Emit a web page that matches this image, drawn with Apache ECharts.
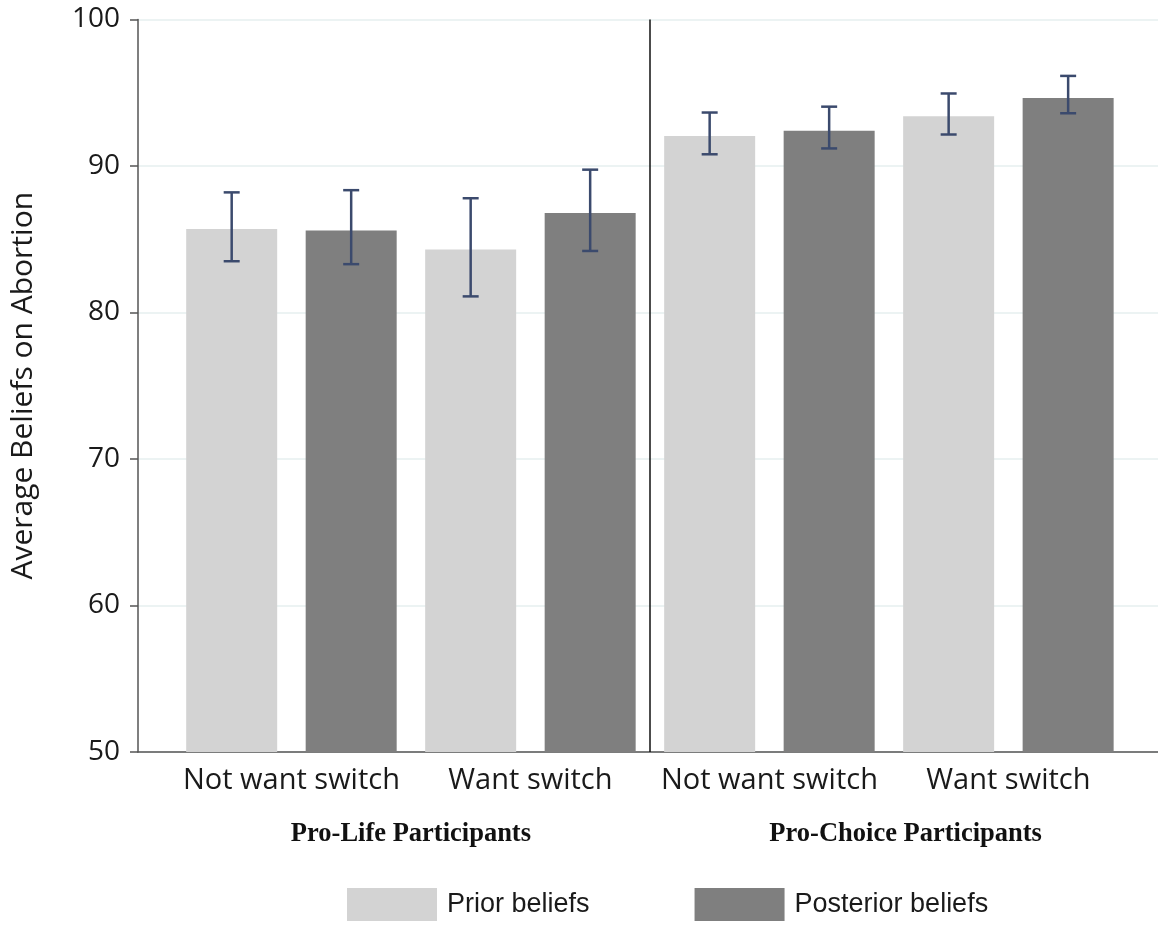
<!DOCTYPE html>
<html>
<head>
<meta charset="utf-8">
<title>Average Beliefs on Abortion</title>
<script src="https://cdn.jsdelivr.net/npm/echarts@6/dist/echarts.min.js"></script>
<style>
    html, body { margin: 0; padding: 0; background: #fff; }
    #main { width: 1158px; height: 926px; }
</style>
</head>
<body>
<div id="main"></div>
<script>
    // bar groups (one per label on the x axis)
    var categories = ['Not want switch', 'Want switch', 'Not want switch', 'Want switch'];
    var groupNames = ['Pro-Life Participants', 'Pro-Choice Participants'];
    var seriesNames = ['Prior beliefs', 'Posterior beliefs'];

    var prior = [85.7, 84.3, 92.05, 93.4];
    var priorLow = [83.5, 81.1, 90.8, 92.15];
    var priorHigh = [88.2, 87.8, 93.65, 94.95];

    var posterior = [85.6, 86.8, 92.4, 94.65];
    var postLow = [83.3, 84.2, 91.2, 93.6];
    var postHigh = [88.35, 89.75, 94.05, 96.15];

    var yTicks = [50, 60, 70, 80, 90, 100];

    // prior bar left of group centre, posterior right
    function toBars(vals, shift) {
        return vals.map(function (v, i) { return [i + shift, v]; });
    }
    function toErr(low, high, shift) {
        return low.map(function (v, i) { return [i + shift, v, high[i]]; });
    }

    function errRender(params, api) {
        var x = api.value(0);
        var top = api.coord([x, api.value(2)]);
        var bot = api.coord([x, api.value(1)]);
        var w = 8;
        var st = { stroke: '#3b4a6d', lineWidth: 2.5 };
        return {
            type: 'group',
            children: [
                { type: 'line', shape: { x1: top[0], y1: top[1], x2: bot[0], y2: bot[1] }, style: st },
                { type: 'line', shape: { x1: top[0] - w, y1: top[1], x2: top[0] + w, y2: top[1] }, style: st },
                { type: 'line', shape: { x1: bot[0] - w, y1: bot[1], x2: bot[0] + w, y2: bot[1] }, style: st }
            ]
        };
    }

    var chart = echarts.init(document.getElementById('main'));
    var option = {
        animation: false,
        backgroundColor: '#fff',
        grid: { left: 138, right: 0, top: 19.5, bottom: 174 },
        legend: {
            data: seriesNames,
            left: 342,
            top: 883,
            icon: 'rect',
            itemWidth: 90,
            itemHeight: 33,
            itemGap: 105,
            textStyle: { fontFamily: 'Liberation Sans', fontSize: 27, color: '#1a1a1a', padding: [0, 0, 0, 5] }
        },
        xAxis: [
            {
                type: 'value',
                min: -0.642,
                max: 3.626,
                axisLine: { show: true, onZero: false, lineStyle: { color: '#555', width: 1.5 } },
                axisTick: { show: false },
                splitLine: { show: false },
                axisLabel: {
                    customValues: [0, 1, 2, 3],
                    formatter: function (v) { return categories[Math.round(v)]; },
                    fontFamily: 'Open Sans',
                    fontSize: 29,
                    color: '#1a1a1a',
                    margin: 14
                }
            },
            {
                type: 'value',
                min: -0.642,
                max: 3.626,
                position: 'bottom',
                offset: 69,
                axisLine: { show: false },
                axisTick: { show: false },
                splitLine: { show: false },
                axisLabel: {
                    customValues: [0.5, 2.57],
                    formatter: function (v) { return v < 1.5 ? groupNames[0] : groupNames[1]; },
                    fontFamily: 'Liberation Serif',
                    fontWeight: 'bold',
                    fontSize: 26.5,
                    color: '#111',
                    margin: 0
                }
            }
        ],
        yAxis: {
            type: 'value',
            min: yTicks[0],
            max: yTicks[yTicks.length - 1],
            interval: 10,
            name: 'Average Beliefs on Abortion',
            nameLocation: 'middle',
            nameGap: 100,
            nameTextStyle: { fontFamily: 'Open Sans', fontSize: 30, color: '#1a1a1a' },
            axisLine: { show: true, onZero: false, lineStyle: { color: '#555', width: 1.5 } },
            axisTick: { show: true, length: 8, lineStyle: { color: '#555', width: 1.5 } },
            axisLabel: { fontFamily: 'Open Sans', fontSize: 28, color: '#1a1a1a', margin: 18 },
            splitLine: { show: true, lineStyle: { color: '#e6efef', width: 1.5 } }
        },
        series: [
            {
                name: seriesNames[0],
                type: 'bar',
                data: toBars(prior, -0.25),
                barWidth: 91,
                itemStyle: { color: '#d3d3d3' },
                markLine: {
                    silent: true,
                    symbol: 'none',
                    label: { show: false },
                    lineStyle: { color: '#111', type: 'solid', width: 1.5 },
                    data: [{ xAxis: 1.5 }]
                }
            },
            {
                name: seriesNames[1],
                type: 'bar',
                data: toBars(posterior, 0.25),
                barWidth: 91,
                barGap: '-100%',
                itemStyle: { color: '#7f7f7f' }
            },
            {
                type: 'custom',
                renderItem: errRender,
                data: toErr(priorLow, priorHigh, -0.25),
                z: 5
            },
            {
                type: 'custom',
                renderItem: errRender,
                data: toErr(postLow, postHigh, 0.25),
                z: 5
            }
        ]
    };
    chart.setOption(option);
</script>
</body>
</html>
